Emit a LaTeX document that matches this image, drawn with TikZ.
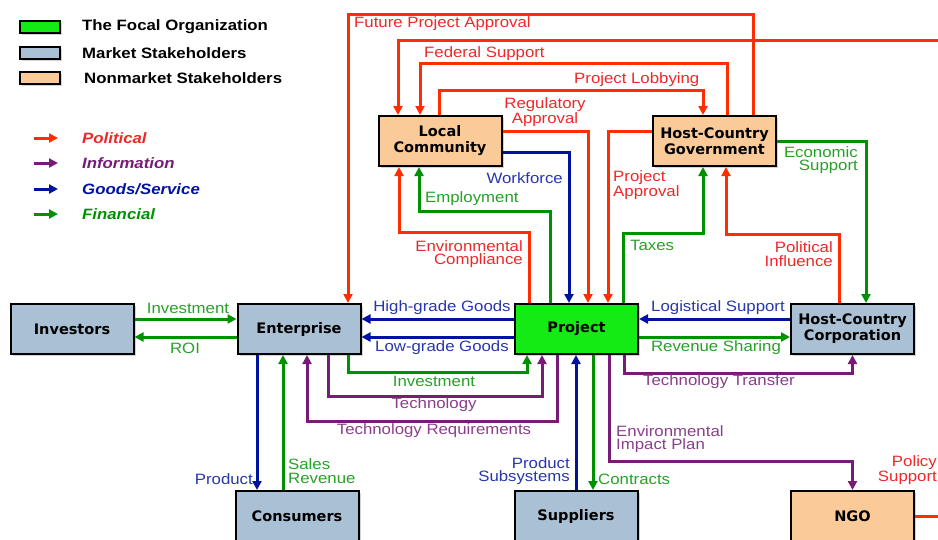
\documentclass[tikz,border=0pt]{standalone}
\usepackage{fontspec}
\setmainfont[FakeStretch=1.12]{Liberation Sans}
\newfontfamily\boxfont{DejaVu Sans}
\usepackage{tikz}
\usetikzlibrary{arrows.meta,calc,shadows}
\definecolor{focalgreen}{RGB}{20,235,20}
\definecolor{marketblue}{RGB}{170,192,212}
\definecolor{nonmarketorange}{RGB}{250,202,152}
\definecolor{polred}{RGB}{255,45,0}
\definecolor{poltext}{RGB}{238,40,40}
\definecolor{infpurple}{RGB}{118,28,118}
\definecolor{goodblue}{RGB}{0,18,160}
\definecolor{fingreen}{RGB}{0,145,0}

\begin{document}
\begin{tikzpicture}[x=1pt,y=-1pt,
    box/.style={draw=black, line width=2pt, minimum width=123pt, minimum height=50pt,
      inner sep=0pt, align=center, font=\boxfont\bfseries\fontsize{14.5}{16}\selectfont,
      drop shadow={shadow xshift=2pt, shadow yshift=-2pt, opacity=0.35}},
    focal/.style={box, fill=focalgreen},
    market/.style={box, fill=marketblue},
    nonmarket/.style={box, fill=nonmarketorange},
    legbox/.style={draw=black, line width=2pt, minimum width=40pt, minimum height=12pt,
      inner sep=0pt, drop shadow={shadow xshift=2pt, shadow yshift=-2pt, opacity=0.35}},
    legtxt/.style={anchor=west, inner sep=0pt, font=\bfseries\fontsize{15}{16}\selectfont},
    legflow/.style={anchor=west, inner sep=0pt, font=\bfseries\itshape\fontsize{15}{16}\selectfont},
    flow/.style={line width=3pt, -{Triangle[length=9pt,width=9pt]}},
    pol/.style={flow, draw=polred},
    inf/.style={flow, draw=infpurple},
    good/.style={flow, draw=goodblue},
    fin/.style={flow, draw=fingreen},
    lbl/.style={inner sep=0pt, font=\fontsize{15}{13.5}\selectfont},
    pollbl/.style={lbl, text=poltext},
    inflbl/.style={lbl, text=infpurple!85!white},
    goodlbl/.style={lbl, text=goodblue!85!white},
    finlbl/.style={lbl, text=fingreen!85!white},
  ]
  \useasboundingbox (0,0) rectangle (938,539);
  \clip (0,0) rectangle (938,539);

  % legend
  \node[legbox, fill=focalgreen] (legFocal) at (40,27) {};
  \node[legbox, fill=marketblue] (legMarket) at (40,53) {};
  \node[legbox, fill=nonmarketorange] (legNonmarket) at (40,78) {};
  \node[legtxt] (legFocalTxt) at (82,27) {The Focal Organization};
  \node[legtxt] (legMarketTxt) at (82,53) {Market Stakeholders};
  \node[legtxt] (legNonmarketTxt) at (84,78) {Nonmarket Stakeholders};
  \node[legflow, text=poltext] (legPol) at (82,138) {Political};
  \node[legflow, text=infpurple] (legInf) at (82,163) {Information};
  \node[legflow, text=goodblue] (legGood) at (82,189) {Goods/Service};
  \node[legflow, text=fingreen] (legFin) at (82,214) {Financial};
  \draw[pol] ($(legPol.west)+(-48,0)$) -- ($(legPol.west)+(-24,0)$);
  \draw[inf] ($(legInf.west)+(-48,0)$) -- ($(legInf.west)+(-24,0)$);
  \draw[good] ($(legGood.west)+(-48,0)$) -- ($(legGood.west)+(-24,0)$);
  \draw[fin] ($(legFin.west)+(-48,0)$) -- ($(legFin.west)+(-24,0)$);

  % stakeholders
  \node[focal] (Proj) at (576.5,329) {Project};
  \node[market] (Inv) at (72,329) {Investors};
  \node[market] (Ent) at (299,329) {Enterprise};
  \node[market] (HCC) at (852.5,329) {Host-Country\\Corporation};
  \node[nonmarket] (LC) at (440,141) {Local\\Community};
  \node[nonmarket] (HCG) at (714.5,141) {Host-Country\\Government};
  \node[market] (Con) at (297,516) {Consumers};
  \node[market] (Sup) at (576,516) {Suppliers};
  \node[nonmarket] (NGO) at (852.5,516) {NGO};
  \coordinate (farR) at (960,40);

  % political
  \draw[pol] ([xshift=38.5]HCG.north) -- ++(0,-101) -| ([xshift=49]Ent.north);
  \draw[pol] (NGO.east) -| (farR) -| ([xshift=-42]LC.north);
  \draw[pol] ([xshift=12.5]HCG.north) -- ++(0,-52) -| ([xshift=-20]LC.north);
  \draw[pol] ([xshift=-1]LC.north) -- ++(0,-25) -| ([xshift=-11.5]HCG.north);
  \draw[pol] ([yshift=10]LC.east) -| ([xshift=11.5]Proj.north);
  \draw[pol] ([yshift=10]HCG.west) -| ([xshift=31.5]Proj.north);
  \draw[pol] ([xshift=-47.5]Proj.north) -- ++(0,-71) -| ([xshift=-41]LC.south);
  \draw[pol] ([xshift=-13.5]HCC.north) -- ++(0,-69) -| ([xshift=11.5]HCG.south);
  % goods/service
  \draw[good] ([yshift=-11]LC.east) -| ([xshift=-7.5]Proj.north);
  \draw[good] ([yshift=10]Proj.west) -- ([yshift=10]Ent.east);
  \draw[good] ([yshift=-8]Proj.west) -- ([yshift=-8]Ent.east);
  \draw[good] ([yshift=10]HCC.west) -- ([yshift=10]Proj.east);
  \draw[good] ([xshift=-42]Ent.south) -- ([xshift=-40]Con.north);
  \draw[good] (Sup.north) -- ([xshift=-0.5]Proj.south);
  % financial
  \draw[fin] (HCG.east) -| ([xshift=13.5]HCC.north);
  \draw[fin] ([xshift=-26.5]Proj.north) -- ++(0,-92) -| ([xshift=-21]LC.south);
  \draw[fin] ([xshift=46.5]Proj.north) -- ++(0,-70) -| ([xshift=-11.5]HCG.south);
  \draw[fin] ([yshift=10]Inv.east) -- ([yshift=10]Ent.west);
  \draw[fin] ([yshift=-8]Ent.west) -- ([yshift=-8]Inv.east);
  \draw[fin] ([yshift=-8]Proj.east) -- ([yshift=-8]HCC.west);
  \draw[fin] ([xshift=49]Ent.south) -- ++(0,17) -| ([xshift=-49.5]Proj.south);
  \draw[fin] ([xshift=-14]Con.north) -- ([xshift=-16]Ent.south);
  \draw[fin] ([xshift=16.5]Proj.south) -- ([xshift=17]Sup.north);
  % information
  \draw[inf] ([xshift=29]Ent.south) -- ++(0,41) -| ([xshift=-34.5]Proj.south);
  \draw[inf] ([xshift=-19.5]Proj.south) -- ++(0,66) -| ([xshift=8]Ent.south);
  \draw[inf] ([xshift=47.5]Proj.south) -- ++(0,18) -| (HCC.south);
  \draw[inf] ([xshift=32.5]Proj.south) -- ++(0,106) -| (NGO.north);

  % labels
  \node[pollbl, anchor=west] (lbFuture) at (354,24) {Future Project Approval};
  \node[pollbl, anchor=west] (lbFederal) at (424,54) {Federal Support};
  \node[pollbl, anchor=west] (lbLobby) at (574,80) {Project Lobbying};
  \node[pollbl, align=center] (lbRegul) at (545,112) {Regulatory\\Approval};
  \node[pollbl, anchor=west, align=left] (lbApproval) at (613,185) {Project\\Approval};
  \node[pollbl, anchor=east, align=right] (lbEnvComp) at (523,254) {Environmental\\Compliance};
  \node[pollbl, anchor=east, align=right] (lbPolInf) at (833,254) {Political\\Influence};
  \node[pollbl, anchor=east, align=right] (lbPolicy) at (937,470) {Policy\\Support};
  \node[goodlbl, anchor=east] (lbWork) at (563,178) {Workforce};
  \node[goodlbl] (lbHigh) at (442,308) {High-grade Goods};
  \node[goodlbl] (lbLow) at (442,348) {Low-grade Goods};
  \node[goodlbl] (lbLogist) at (718,308) {Logistical Support};
  \node[goodlbl, anchor=east] (lbProduct) at (253,479) {Product};
  \node[goodlbl, anchor=east, align=right] (lbSubsys) at (570,471) {Product\\Subsystems};
  \node[finlbl, anchor=east, align=right] (lbEcon) at (858,160) {Economic\\Support};
  \node[finlbl, anchor=west] (lbEmploy) at (425,199) {Employment};
  \node[finlbl, anchor=west] (lbTaxes) at (630,245) {Taxes};
  \node[finlbl] (lbInvest) at (188,308) {Investment};
  \node[finlbl] (lbROI) at (185,348) {ROI};
  \node[finlbl] (lbRevenue) at (716,348) {Revenue Sharing};
  \node[finlbl] (lbInvest2) at (434,381) {Investment};
  \node[finlbl, anchor=west, align=left] (lbSales) at (288,471) {Sales\\Revenue};
  \node[finlbl, anchor=west] (lbContract) at (598,479) {Contracts};
  \node[inflbl] (lbTech) at (434,405) {Technology};
  \node[inflbl] (lbTechReq) at (434,431) {Technology Requirements};
  \node[inflbl, anchor=west] (lbTransfer) at (643,382) {Technology Transfer};
  \node[inflbl, anchor=west, align=left] (lbImpact) at (616,439) {Environmental\\Impact Plan};
\end{tikzpicture}
\end{document}
